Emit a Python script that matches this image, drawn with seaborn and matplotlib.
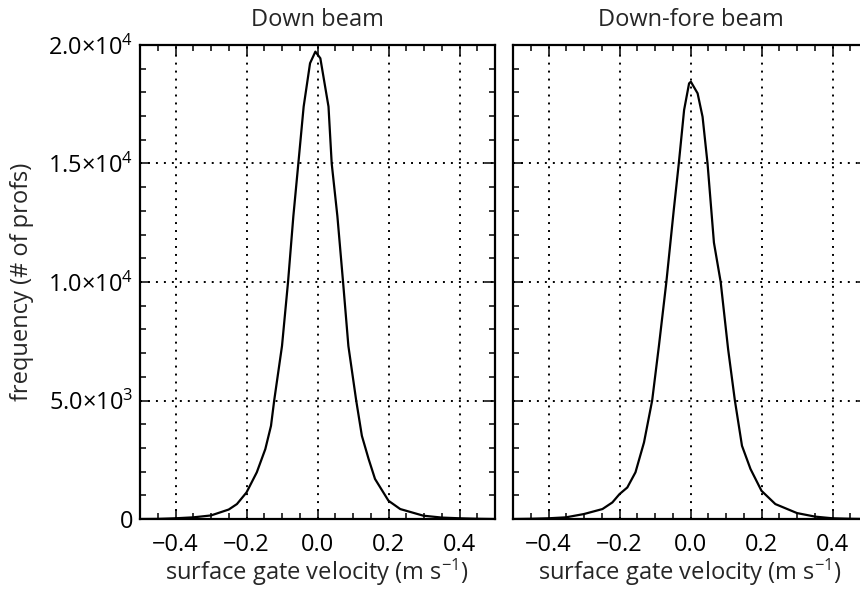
import matplotlib
matplotlib.use("Agg")
import matplotlib.pyplot as plt
from matplotlib.ticker import MultipleLocator
import seaborn as sns
import pandas as pd

# ---- data ----
down_x = [-0.50, -0.45, -0.40, -0.35, -0.30, -0.25, -0.227, -0.20, -0.171, -0.147,
          -0.131, -0.122, -0.100, -0.083, -0.068, -0.054, -0.039, -0.021, -0.006,
          0.008, 0.031, 0.040, 0.056, 0.072, 0.087, 0.109, 0.125, 0.144, 0.162,
          0.20, 0.233, 0.298, 0.35, 0.40, 0.45, 0.50]
down_y = [0, 5, 30, 70, 150, 400, 630, 1120, 1970, 2950,
          3930, 5000, 7300, 10000, 12780, 15000, 17400, 19230, 19720,
          19440, 17400, 15000, 12780, 10000, 7300, 5000, 3510, 2530, 1690,
          770, 420, 140, 60, 30, 10, 0]

fore_x = [-0.50, -0.45, -0.40, -0.351, -0.30, -0.248, -0.22, -0.20, -0.178, -0.155,
          -0.131, -0.108, -0.089, -0.068, -0.047, -0.033, -0.018, -0.004, 0.001,
          0.020, 0.034, 0.048, 0.066, 0.085, 0.106, 0.125, 0.145, 0.169, 0.20,
          0.239, 0.30, 0.351, 0.40, 0.45, 0.50]
fore_y = [0, 10, 30, 70, 210, 420, 700, 1050, 1330, 1970,
          3230, 5000, 7300, 10000, 13060, 15000, 17260, 18380, 18450,
          17960, 16970, 15000, 11660, 10000, 7160, 5000, 3090, 2110, 1190,
          630, 250, 100, 30, 10, 0]

titles = ["Down beam", "Down-fore beam"]
xticks = [-0.4, -0.2, 0.0, 0.2, 0.4]
xtick_labels = ["\u22120.4", "\u22120.2", "0.0", "0.2", "0.4"]
yticks = [0, 5000, 10000, 15000, 20000]
ytick_labels = ["0", r"5.0$\times$10$^{3}$", r"1.0$\times$10$^{4}$",
                r"1.5$\times$10$^{4}$", r"2.0$\times$10$^{4}$"]
xlabel = r"surface gate velocity (m s$^{-1}$)"
ylabel = "frequency (# of profs)"

# ---- style ----
sns.set_style("ticks")
plt.rcParams["font.family"] = ["Open Sans", "DejaVu Sans"]
plt.rcParams["mathtext.fontset"] = "custom"
plt.rcParams["mathtext.rm"] = "Open Sans"
plt.rcParams["mathtext.it"] = "Open Sans"
plt.rcParams["mathtext.bf"] = "Open Sans"
plt.rcParams["mathtext.default"] = "rm"

FS = 17
W, H = 860, 589
fig = plt.figure(figsize=(W / 100, H / 100), dpi=100)
ax1 = fig.add_axes([140 / W, 1 - 519 / H, 355 / W, 474 / H])
ax2 = fig.add_axes([513 / W, 1 - 519 / H, 355 / W, 474 / H])

frames = [pd.DataFrame({"v": down_x, "f": down_y}),
          pd.DataFrame({"v": fore_x, "f": fore_y})]

for i, (ax, df) in enumerate(zip([ax1, ax2], frames)):
    sns.lineplot(data=df, x="v", y="f", ax=ax, color="black", lw=1.6, zorder=3)
    ax.set_xlim(-0.5, 0.5)
    ax.set_ylim(0, 20000)
    ax.set_xticks(xticks)
    ax.set_xticklabels(xtick_labels)
    ax.set_yticks(yticks)
    ax.xaxis.set_minor_locator(MultipleLocator(0.05))
    ax.yaxis.set_minor_locator(MultipleLocator(1000))
    ax.tick_params(which="both", direction="in", top=True, right=True,
                   colors="black", width=1.1, labelsize=FS)
    ax.tick_params(axis="x", which="major", pad=10)
    ax.tick_params(axis="y", which="major", pad=5)
    ax.tick_params(which="major", length=7)
    ax.tick_params(which="minor", length=4.5)
    ax.grid(True, which="major", color="black", lw=1.4,
            linestyle=(0, (1, 3.1)))
    for s in ax.spines.values():
        s.set_linewidth(1.6)
        s.set_color("black")
    ax.set_title(titles[i], fontsize=FS, pad=14)
    ax.set_xlabel(xlabel, fontsize=FS, labelpad=0)
    if i == 0:
        ax.set_yticklabels(ytick_labels)
        ax.set_ylabel(ylabel, fontsize=FS, labelpad=10)
    else:
        ax.set_yticklabels([])
        ax.set_ylabel("")

fig.savefig("out.png", dpi=100)
